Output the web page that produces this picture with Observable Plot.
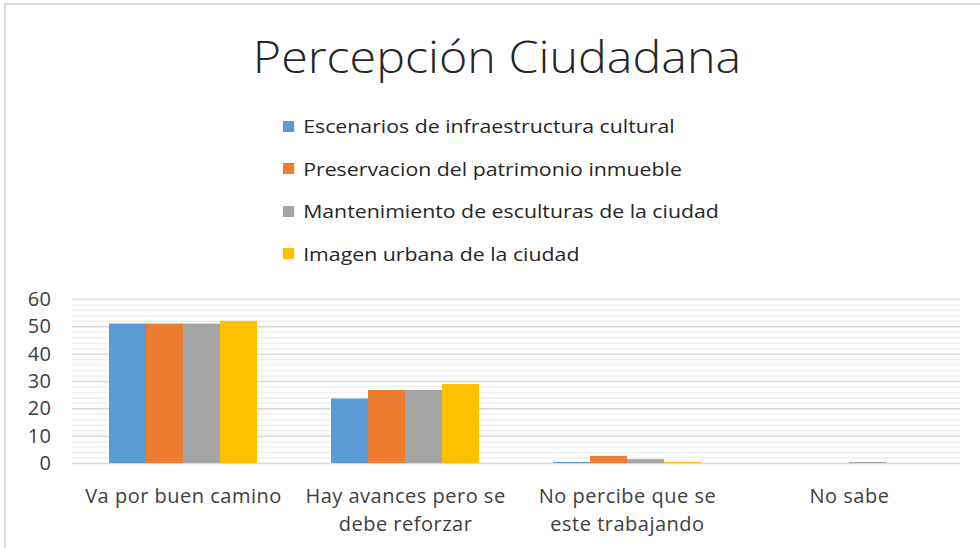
<!DOCTYPE html>
<html>
<head>
<meta charset="utf-8">
<script src="https://cdn.jsdelivr.net/npm/d3@7"></script>
<script src="https://cdn.jsdelivr.net/npm/@observablehq/plot@0.6"></script>
<style>
  html, body { margin: 0; padding: 0; background: #fff; }
  #wrap { position: relative; width: 980px; height: 548px; overflow: hidden; background: #fff; font-family: "Open Sans", sans-serif; }
  #frame { position: absolute; left: 4px; top: 3px; width: 1000px; height: 600px; border-left: 2px solid #d9d9d9; border-top: 2px solid #d9d9d9; box-sizing: border-box; }
  #title { position: absolute; left: 0; top: 26px; width: 994px; text-align: center; font-size: 44px; font-weight: 300; color: #262626; white-space: nowrap; transform: scaleX(1.1); transform-origin: 497px 0; }
  #legend { position: absolute; left: 283px; top: 105px; transform: scaleX(1.12); transform-origin: 0 0; }
  .item { display: flex; align-items: center; height: 42.5px; font-size: 19px; color: #262626; white-space: nowrap; }
  .sw { width: 10px; height: 11px; margin-right: 8px; }
  #chart { position: absolute; left: 0; top: 280px; }
</style>
</head>
<body>
<div id="wrap">
  <div id="frame"></div>
  <div id="title">Percepción Ciudadana</div>
  <div id="legend"></div>
  <div id="chart"></div>
</div>
<script>
const categories = ["Va por buen camino", "Hay avances pero se\ndebe reforzar", "No percibe que se\neste trabajando", "No sabe"];
const series = ["Escenarios de infraestructura cultural", "Preservacion del patrimonio inmueble", "Mantenimiento de esculturas de la ciudad", "Imagen urbana de la ciudad"];
const colors = ["#5B9BD5", "#ED7D31", "#A5A5A5", "#FFC000"];
const escenarios = [51, 23.6, 0.4, 0];
const preservacion = [51, 26.7, 2.6, 0];
const mantenimiento = [51, 26.7, 1.4, 0.4];
const imagen = [52, 28.9, 0.4, 0];
const yTicks = [0, 10, 20, 30, 40, 50, 60];
const minorTicks = d3.range(0, 61, 2).filter(v => v % 10 !== 0);

const valuesBySeries = [escenarios, preservacion, mantenimiento, imagen];
const data = [];
categories.forEach((c, i) => series.forEach((s, j) => data.push({category: c, series: s, value: valuesBySeries[j][i]})));

const legend = document.getElementById("legend");
series.forEach((s, j) => {
  const it = document.createElement("div");
  it.className = "item";
  it.innerHTML = `<span class="sw" style="background:${colors[j]}"></span><span>${s}</span>`;
  legend.appendChild(it);
});

const chart = Plot.plot({
  width: 980,
  height: 268,
  marginTop: 19,
  marginBottom: 85,
  marginLeft: 71,
  marginRight: 20,
  style: {fontFamily: "Open Sans, sans-serif", fontSize: "20px", color: "#404040", background: "transparent", letterSpacing: "0.5px"},
  fx: {domain: categories, padding: 0, label: null, axis: null},
  x: {domain: series, paddingInner: 0, paddingOuter: 1, axis: null},
  y: {domain: [0, 60], ticks: yTicks, tickSize: 0, tickPadding: 21, label: null},
  color: {domain: series, range: colors},
  marks: [
    Plot.ruleY(minorTicks, {stroke: "#efefef", strokeWidth: 1.5}),
    Plot.ruleY(yTicks, {stroke: "#d9d9d9", strokeWidth: 1.5}),
    Plot.barY(data, {fx: "category", x: "series", y: "value", fill: "series"}),
    Plot.axisFx({anchor: "bottom", tickSize: 0, tickPadding: 20, lineHeight: 1.4, fontSize: 20, label: null}),
    Plot.axisY(yTicks, {tickSize: 0, tickPadding: 21, fontSize: 20, label: null})
  ]
});
document.getElementById("chart").appendChild(chart);
</script>
</body>
</html>
